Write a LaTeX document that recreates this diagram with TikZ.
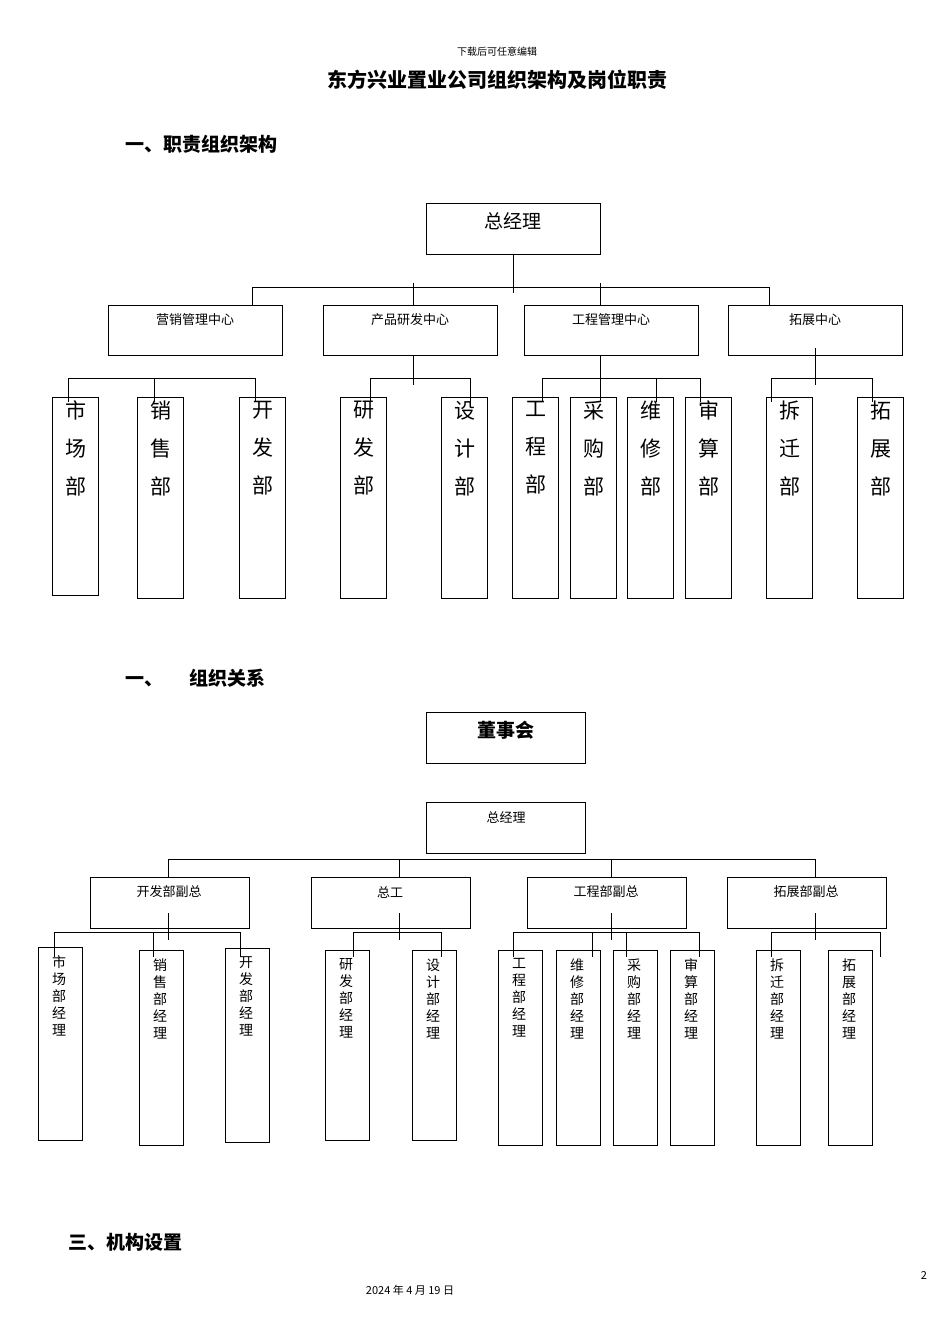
\documentclass[tikz,border=0pt]{standalone}
\usepackage{fontspec}
\setmainfont{Noto Sans CJK SC}
\begin{document}
\begin{tikzpicture}[x=1pt,y=-1pt,line width=0.9pt,
 bx/.style={draw,line width=1pt},
 ln/.style={line width=0.9pt},
 big/.style={font=\fontsize{21}{38}\selectfont,align=center,anchor=north},
 sm/.style={font=\fontsize{14}{17}\selectfont,align=center,anchor=north}]
\useasboundingbox[fill=white] (0,0) rectangle (950,1344);
\node (hd) at (497,52) {\fontsize{10}{12}\selectfont 下载后可任意编辑};
\node (tt) at (497,80) {\fontsize{20}{24}\selectfont\bfseries 东方兴业置业公司组织架构及岗位职责};
\node[anchor=west] (h1) at (122,144) {\fontsize{19}{24}\selectfont\bfseries 一、职责组织架构};
\node[anchor=west] (h2) at (122,678) {\fontsize{19}{24}\selectfont\bfseries 一、\hspace{26pt}组织关系};
\node[anchor=west] (h3) at (65,1242) {\fontsize{19}{24}\selectfont\bfseries 三、机构设置};
\node (pg) at (924,1275) {\fontsize{11}{12}\selectfont 2};
\node (dt) at (410,1290) {\fontsize{11}{12}\selectfont 2024 年 4 月 19 日};
% ---- top chart
\draw[bx] (426,203) rectangle (600,254);
\node (gm) at (513,221) {\fontsize{19}{22}\selectfont 总经理};
\coordinate (gmB) at (513,254);
\foreach \x/\t in {108/营销管理中心,323/产品研发中心,524/工程管理中心,728/拓展中心}{
 \draw[bx] (\x,305) rectangle (\x+174,355);
 \node at (\x+87,320) {\fontsize{13}{16}\selectfont \t};}
\draw[ln] (513,254) -- (513,293);
\draw[ln] (252,287) -- (769,287);
\foreach \x/\a in {252/287,413/283,600/283,769/287}{\draw[ln] (\x,\a) -- (\x,305);}
\foreach \x/\y/\t in {52/595/市\\场\\部,137/598/销\\售\\部,239/598/开\\发\\部,340/598/研\\发\\部,441/598/设\\计\\部,512/598/工\\程\\部,570/598/采\\购\\部,627/598/维\\修\\部,685/598/审\\算\\部,766/598/拆\\迁\\部,857/598/拓\\展\\部}{
 \draw[bx] (\x,397) rectangle (\x+46,\y);
 \node[big] at (\x+24,397) {\t};}
\draw[ln] (68,378) -- (255,378);
\foreach \x in {68,154,255}{\draw[ln] (\x,378) -- (\x,402);}
\draw[ln] (370,378) -- (470,378); \draw[ln] (413,355) -- (413,385);
\foreach \x in {370,470}{\draw[ln] (\x,378) -- (\x,402);}
\draw[ln] (542,378) -- (700,378); \draw[ln] (600,355) -- (600,385);
\foreach \x in {542,600,656,700}{\draw[ln] (\x,378) -- (\x,402);}
\draw[ln] (771,378) -- (872,378); \draw[ln] (815,348) -- (815,385);
\foreach \x in {771,872}{\draw[ln] (\x,378) -- (\x,402);}
% ---- bottom chart
\draw[bx] (426,712) rectangle (585,763);
\node (dsh) at (506,730) {\fontsize{19}{22}\selectfont\bfseries 董事会};
\draw[bx] (426,802) rectangle (585,853);
\node (gm2) at (506,817) {\fontsize{13}{16}\selectfont 总经理};
\draw[ln] (168,859) -- (815,859);
\draw[ln] (399,859) -- (399,878); \draw[ln] (611,859) -- (611,878);
\draw[ln] (168,859) -- (168,878); \draw[ln] (815,859) -- (815,878);
\foreach \x/\t in {90/开发部副总,311/总工,527/工程部副总,727/拓展部副总}{
 \draw[bx] (\x,877) rectangle (\x+159,928);
 \node at (\x+79,892) {\fontsize{13}{16}\selectfont \t};}
\foreach \x/\y/\yt/\t in {38/947/1140/市\\场\\部\\经\\理,139/950/1145/销\\售\\部\\经\\理,225/948/1142/开\\发\\部\\经\\理,325/950/1140/研\\发\\部\\经\\理,412/950/1140/设\\计\\部\\经\\理,498/950/1145/工\\程\\部\\经\\理,556/950/1145/维\\修\\部\\经\\理,613/950/1145/采\\购\\部\\经\\理,670/950/1145/审\\算\\部\\经\\理,756/950/1145/拆\\迁\\部\\经\\理,828/950/1145/拓\\展\\部\\经\\理}{
 \draw[bx] (\x,\y) rectangle (\x+44,\yt);
 \node[sm] at (\x+21,\y+5) {\t};}
\draw[ln] (54,932) -- (240,932); \draw[ln] (168,913) -- (168,940);
\foreach \x in {54,153,240}{\draw[ln] (\x,932) -- (\x,957);}
\draw[ln] (353,932) -- (441,932); \draw[ln] (399,913) -- (399,940);
\foreach \x in {353,441}{\draw[ln] (\x,932) -- (\x,957);}
\draw[ln] (513,932) -- (699,932); \draw[ln] (611,913) -- (611,940);
\foreach \x in {513,592,626,699}{\draw[ln] (\x,932) -- (\x,957);}
\draw[ln] (771,932) -- (880,932); \draw[ln] (815,913) -- (815,940);
\foreach \x in {771,880}{\draw[ln] (\x,932) -- (\x,957);}
\end{tikzpicture}
\end{document}
